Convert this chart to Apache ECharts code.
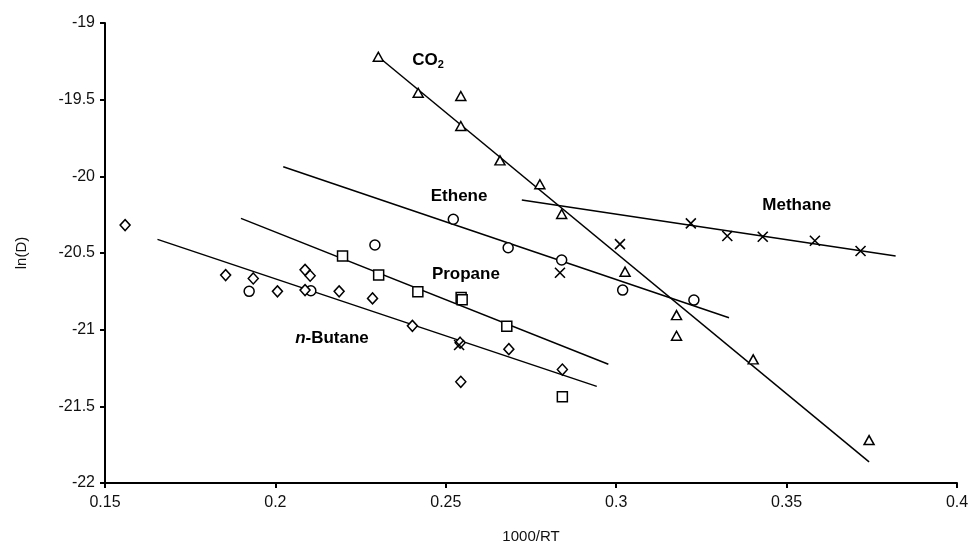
<!DOCTYPE html>
<html>
<head>
<meta charset="utf-8">
<script src="https://cdn.jsdelivr.net/npm/echarts@6/dist/echarts.min.js"></script>
<style>
html, body { margin: 0; padding: 0; background: #fff; }
#chart { width: 972px; height: 555px; }
</style>
</head>
<body>
<div id="chart"></div>
<script>
// points: [1000/RT, ln(D)]
var co2Pts = [[0.2302, -19.22], [0.2419, -19.455], [0.2544, -19.476], [0.2544, -19.672], [0.2659, -19.896],
	[0.2776, -20.052], [0.284, -20.246], [0.3026, -20.622], [0.3177, -20.905], [0.3177, -21.04],
	[0.3402, -21.194], [0.3742, -21.72]]
var methanePts = [[0.2539, -21.10], [0.2835, -20.629], [0.3011, -20.442], [0.3219, -20.307], [0.3326, -20.389],
	[0.343, -20.394], [0.3583, -20.42], [0.3717, -20.487]]
var ethenePts = [[0.1923, -20.75], [0.2104, -20.746], [0.2292, -20.448], [0.2522, -20.28], [0.2683, -20.466],
	[0.284, -20.546], [0.3019, -20.742], [0.3228, -20.807]]
var propanePts = [[0.2197, -20.52], [0.2303, -20.644], [0.2418, -20.753], [0.2545, -20.79], [0.2548, -20.805],
	[0.2679, -20.977], [0.2842, -21.438]]
var butanePts = [[0.1559, -20.318], [0.1854, -20.644], [0.1935, -20.666], [0.2006, -20.75], [0.2087, -20.61],
	[0.2102, -20.648], [0.2087, -20.742], [0.2187, -20.75], [0.2285, -20.796], [0.2402, -20.975],
	[0.2542, -21.085], [0.2544, -21.34], [0.2685, -21.127], [0.2842, -21.26]]

// fitted lines (start, end)
var co2Fit = [[0.2302, -19.22], [0.3742, -21.862]]
var etheneFit = [[0.2023, -19.937], [0.3331, -20.922]]
var methaneFit = [[0.2723, -20.155], [0.382, -20.52]]
var propaneFit = [[0.1899, -20.274], [0.2977, -21.226]]
var butaneFit = [[0.1654, -20.411], [0.2943, -21.37]]

// text labels in the plot
var gasNames = ['{b|CO}{s|2}', '{b|Ethene}', '{b|Propane}', '{i|n}{b|-Butane}', '{b|Methane}']
var gasLabelPos = [[0.2448, -19.241], [0.2539, -20.128], [0.2559, -20.637], [0.2166, -21.055], [0.353, -20.187]]

var font = 'Liberation Sans, Arial, Helvetica, sans-serif'
var crossPath = 'path://M0,0L10,10M10,0L0,10'

function pts(name, data, symbol, size) {
	return {
		name: name,
		type: 'scatter',
		data: data,
		symbol: symbol,
		symbolSize: size,
		itemStyle: { color: '#fff', borderColor: '#000', borderWidth: 1.5, opacity: 1 },
		z: 3
	}
}
function fit(data) {
	return {
		type: 'line',
		data: data,
		symbol: 'none',
		silent: true,
		lineStyle: { color: '#000', width: 1.5 },
		z: 2
	}
}

var labelData = gasNames.map(function(n, i) {
	return { value: gasLabelPos[i], name: n }
})

var option = {
	backgroundColor: '#fff',
	animation: false,
	grid: { left: 105, right: 15, top: 23, bottom: 72 },
	xAxis: {
		type: 'value',
		min: 0.15, max: 0.4, interval: 0.05,
		name: '1000/RT',
		nameLocation: 'middle',
		nameGap: 46,
		nameTextStyle: { fontFamily: font, fontSize: 15, color: '#111' },
		axisLine: { show: true, onZero: false, lineStyle: { color: '#000', width: 2 } },
		axisTick: { show: true, length: 5, lineStyle: { color: '#000', width: 2 } },
		axisLabel: { fontFamily: font, fontSize: 16, color: '#111', margin: 12 },
		splitLine: { show: false }
	},
	yAxis: {
		type: 'value',
		min: -22, max: -19, interval: 0.5,
		name: 'ln(D)',
		nameLocation: 'middle',
		nameGap: 76,
		nameRotate: 90,
		nameTextStyle: { fontFamily: font, fontSize: 15, color: '#111' },
		axisLine: { show: true, onZero: false, lineStyle: { color: '#000', width: 2 } },
		axisTick: { show: true, length: 5, lineStyle: { color: '#000', width: 2 } },
		axisLabel: { fontFamily: font, fontSize: 16, color: '#111', margin: 10 },
		splitLine: { show: false }
	},
	series: [
		fit(co2Fit), fit(etheneFit), fit(methaneFit), fit(propaneFit), fit(butaneFit),
		pts('CO2', co2Pts, 'triangle', [10, 9]),
		pts('Ethene', ethenePts, 'circle', 10),
		pts('Propane', propanePts, 'rect', 10),
		pts('n-Butane', butanePts, 'diamond', [10, 11]),
		{
			name: 'Methane',
			type: 'scatter',
			data: methanePts,
			symbol: crossPath,
			symbolSize: 10,
			itemStyle: { color: 'none', borderColor: '#000', borderWidth: 1.6, opacity: 1 },
			z: 3
		},
		{
			type: 'scatter',
			data: labelData,
			symbolSize: 0,
			silent: true,
			itemStyle: { color: '#000', opacity: 1 },
			label: {
				show: true,
				position: 'inside',
				color: '#000',
				textBorderWidth: 0,
				formatter: function(p) { return p.name },
				rich: {
					b: { fontFamily: font, fontSize: 17, fontWeight: 'bold', color: '#000', textBorderWidth: 0 },
					i: { fontFamily: font, fontSize: 17, fontWeight: 'bold', fontStyle: 'italic', color: '#000', textBorderWidth: 0 },
					s: { fontFamily: font, fontSize: 11, fontWeight: 'bold', color: '#000', textBorderWidth: 0, padding: [10, 0, 0, 0] }
				}
			},
			z: 4
		}
	]
}

var myChart = echarts.init(document.getElementById('chart'))
myChart.setOption(option)
</script>
</body>
</html>
